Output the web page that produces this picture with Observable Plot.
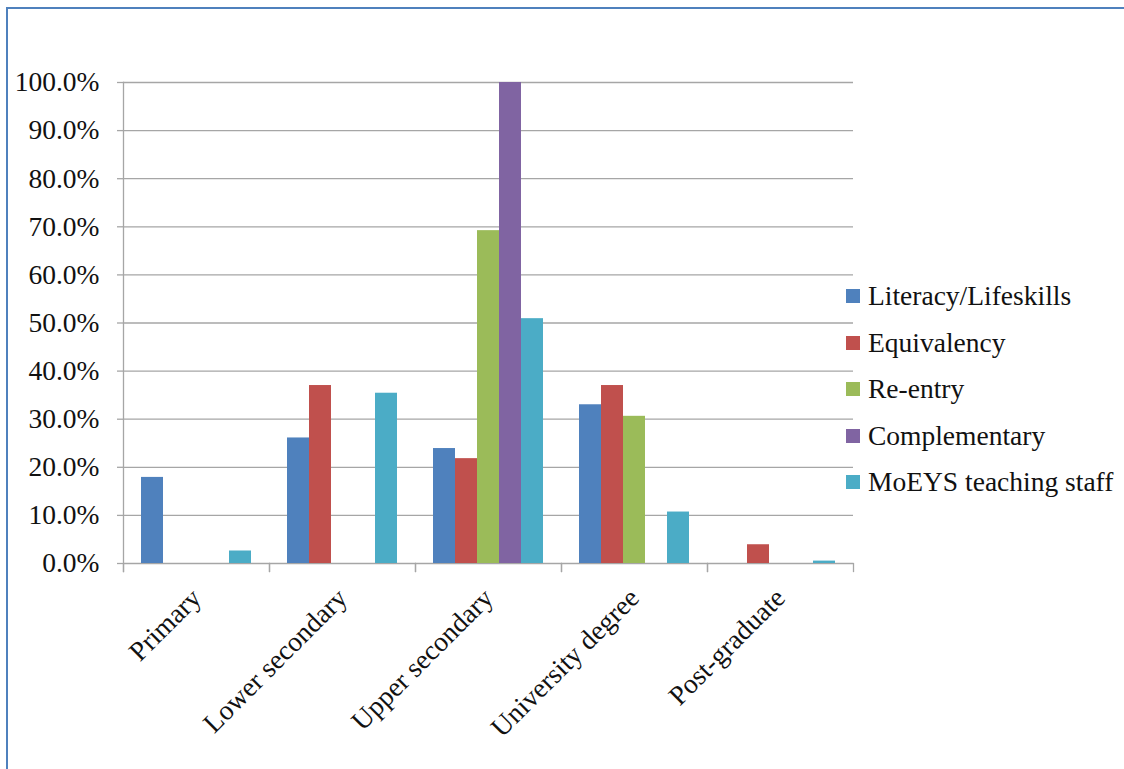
<!DOCTYPE html>
<html><head><meta charset="utf-8">
<script src="https://cdn.jsdelivr.net/npm/d3@7"></script>
<script src="https://cdn.jsdelivr.net/npm/@observablehq/plot@0.6"></script>
<style>
body{margin:0;background:#fff;}
#wrap{position:relative;width:1124px;height:769px;overflow:hidden;background:#fff;}
#border{position:absolute;left:6px;top:7px;width:1200px;height:900px;border:2px solid #4f81bd;box-sizing:border-box;}
#chart{position:absolute;left:0;top:0;}
#legend{position:absolute;left:846px;top:273px;font-family:"Liberation Serif",serif;font-size:27.5px;color:#111;}
#legend .row{display:flex;align-items:center;height:46.5px;white-space:nowrap;}
#legend .sw{width:14px;height:14px;margin-right:8px;flex:none;}
</style></head>
<body><div id="wrap"><div id="border"></div><div id="chart"></div><div id="legend"></div></div>
<script>
const categories = ["Primary","Lower secondary","Upper secondary","University degree","Post-graduate"];
const series = ["Literacy/Lifeskills","Equivalency","Re-entry","Complementary","MoEYS teaching staff"];
const colors = ["#4F81BD","#C0504D","#9BBB59","#8064A2","#4BACC6"];
const literacy = [17.9, 26.1, 23.9, 33.0, 0];
const equivalency = [0, 37.0, 21.8, 37.0, 3.9];
const reentry = [0, 0, 69.2, 30.6, 0];
const complementary = [0, 0, 100.0, 0, 0];
const moeys = [2.6, 35.4, 50.9, 10.7, 0.5];
const yTicks = [0,10,20,30,40,50,60,70,80,90,100];

const seriesValues = [literacy, equivalency, reentry, complementary, moeys];
const rows = [];
categories.forEach((c, i) => series.forEach((s, j) => rows.push({cat: c, series: s, value: seriesValues[j][i]})));

const W = 1124, H = 769, mL = 123, mT = 82, mR = 1124 - 853, mB = 769 - 563;
const innerH = H - mT - mB;
const grey = "#a6a6a6";

const chart = Plot.plot({
  width: W, height: H,
  marginLeft: mL, marginTop: mT, marginRight: mR, marginBottom: mB,
  style: {fontFamily: "'Liberation Serif', serif", fontSize: "27.5px", color: "#111", background: "transparent", overflow: "visible"},
  fx: {domain: categories, padding: 0, label: null},
  x: {domain: series, paddingInner: 0, paddingOuter: 0.75, axis: null},
  y: {domain: [0, 100], label: null},
  color: {domain: series, range: colors},
  marks: [
    Plot.gridY(yTicks, {stroke: grey, strokeOpacity: 1, strokeWidth: 1.3}),
    Plot.axisY(yTicks, {tickSize: 6, tickPadding: 18, tickFormat: d => d.toFixed(1) + "%", stroke: grey, strokeOpacity: 1, strokeWidth: 1.3, fill: "#111", label: null}),
    Plot.axisFx({anchor: "bottom", tickRotate: -45, tickSize: 0, tickPadding: 30, fill: "#111", label: null}),
    Plot.barY(rows, {fx: "cat", x: "series", y: "value", fill: "series"}),
    Plot.frame({anchor: "left", facetAnchor: "left", insetBottom: -8, stroke: grey, strokeWidth: 1.3}),
    Plot.frame({anchor: "left", insetTop: innerH, insetBottom: -8, stroke: grey, strokeWidth: 1.3}),
    Plot.frame({anchor: "right", insetTop: innerH, insetBottom: -8, stroke: grey, strokeWidth: 1.3})
  ]
});
document.getElementById("chart").appendChild(chart);

const legend = document.getElementById("legend");
series.forEach((s, j) => {
  const row = document.createElement("div");
  row.className = "row";
  const sw = document.createElement("span");
  sw.className = "sw";
  sw.style.background = colors[j];
  const t = document.createElement("span");
  t.textContent = s;
  row.appendChild(sw); row.appendChild(t);
  legend.appendChild(row);
});
</script></body></html>
